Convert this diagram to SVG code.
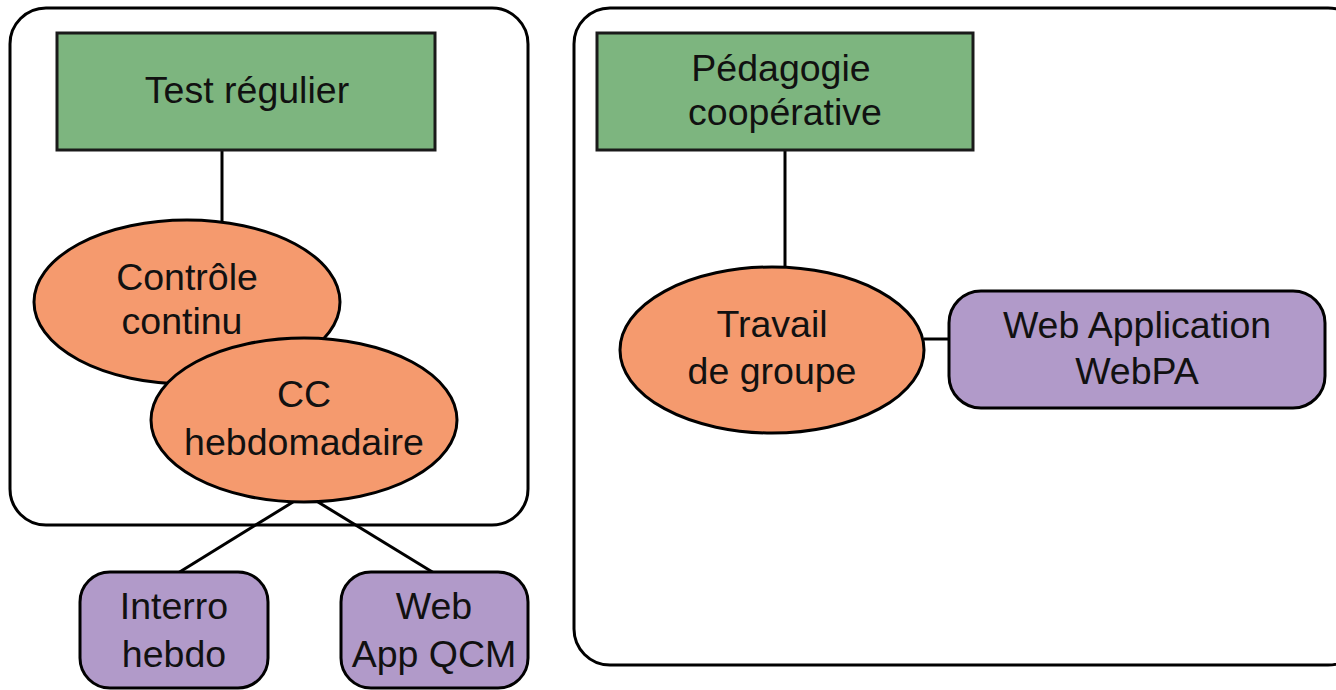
<svg xmlns="http://www.w3.org/2000/svg" width="1336" height="690" viewBox="0 0 1336 690">
<style>
.cont{fill:#ffffff;stroke:#000;stroke-width:3}
.green{fill:#7db57f;stroke:#1a1a1a;stroke-width:3}
.orange{fill:#f59a6e;stroke:#000;stroke-width:3}
.purple{fill:#b19ac9;stroke:#000;stroke-width:3}
.conn{stroke:#000;stroke-width:3;fill:none}
text{font-family:"Liberation Sans",Arial,sans-serif;font-size:37.5px;fill:#111;text-anchor:middle}
</style>
<rect width="1336" height="690" fill="#ffffff"/>
<g id="container-left"><rect class="cont" x="10" y="8" width="518" height="517" rx="36"/></g>
<g id="container-right"><rect class="cont" x="574" y="8" width="790" height="657" rx="36"/></g>
<g id="connectors">
<line class="conn" x1="222" y1="150" x2="222" y2="222"/>
<line class="conn" x1="293" y1="502" x2="178" y2="573"/>
<line class="conn" x1="318" y1="502" x2="434" y2="573"/>
<line class="conn" x1="785" y1="150" x2="785" y2="268"/>
<line class="conn" x1="924" y1="339" x2="950" y2="339"/>
</g>
<g id="test-regulier">
<rect class="green" x="57" y="33" width="378" height="117"/>
<text x="247" y="103">Test régulier</text>
</g>
<g id="controle-continu">
<ellipse class="orange" cx="187" cy="302" rx="153" ry="82"/>
<text x="187" y="290">Contrôle</text>
<text x="182" y="334">continu</text>
</g>
<g id="cc-hebdomadaire">
<ellipse class="orange" cx="304" cy="420" rx="153" ry="82"/>
<text x="304" y="407">CC</text>
<text x="304" y="455">hebdomadaire</text>
</g>
<g id="interro-hebdo">
<rect class="purple" x="80" y="572" width="188" height="116" rx="30"/>
<text x="174" y="619">Interro</text>
<text x="174" y="667">hebdo</text>
</g>
<g id="web-app-qcm">
<rect class="purple" x="341" y="572" width="187" height="116" rx="30"/>
<text x="434" y="619">Web</text>
<text x="434" y="667">App QCM</text>
</g>
<g id="pedagogie-cooperative">
<rect class="green" x="597" y="33" width="376" height="117"/>
<text x="781" y="81">Pédagogie</text>
<text x="785" y="125">coopérative</text>
</g>
<g id="travail-de-groupe">
<ellipse class="orange" cx="772" cy="350" rx="152" ry="83"/>
<text x="772" y="337">Travail</text>
<text x="772" y="384">de groupe</text>
</g>
<g id="webpa">
<rect class="purple" x="949" y="291" width="376" height="117" rx="32"/>
<text x="1137" y="338">Web Application</text>
<text x="1137" y="384">WebPA</text>
</g>
</svg>
